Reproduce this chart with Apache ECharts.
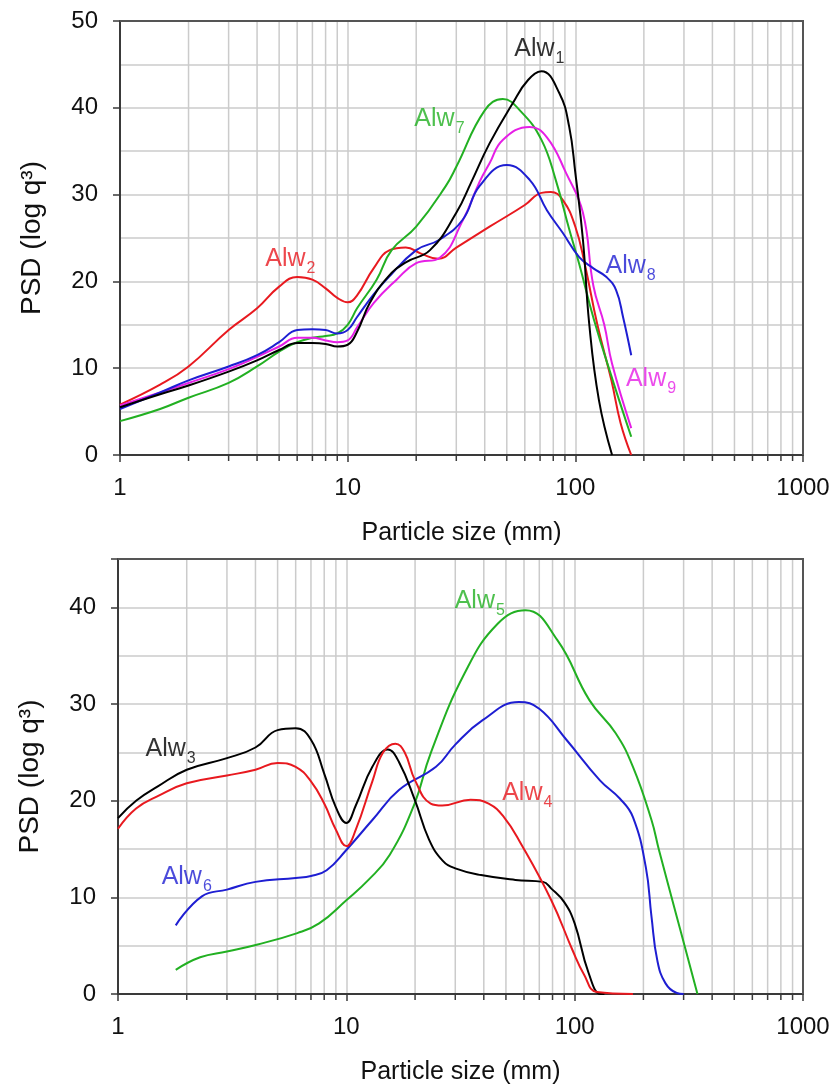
<!DOCTYPE html>
<html>
<head>
<meta charset="utf-8">
<script src="https://cdn.jsdelivr.net/npm/echarts@6/dist/echarts.min.js"></script>
<style>
  html, body { margin: 0; padding: 0; background: #fff; }
  #main { width: 834px; height: 1086px; }
</style>
</head>
<body>
<div id="main"></div>
<script>
// top panel
var alw1 = [[1,5.5],[1.5,7],[2,8.0],[3,9.6],[4,10.9],[5,12.1],[6,12.9],[7,12.9],[8,12.8],[9,12.5],[10,12.7],[11,14.2],[12.5,17.5],[15,20.5],[18,22.2],[23,23.6],[30,27.9],[35,31.5],[42,35.9],[53,40.5],[62,43.2],[71,44.2],[85,41.7],[94,37.8],[100,32.5],[108,24.8],[115,15.2],[127,6.3],[145,0]];
var alw2 = [[1,5.8],[1.5,8.1],[2,10.2],[3,14.4],[4,16.9],[5,19.4],[6,20.5],[7,20.2],[8,19.2],[9,18.1],[10,17.6],[11,18.4],[13,21.5],[15.3,23.6],[18,23.9],[21,23.2],[25,22.6],[30,23.9],[42,26.3],[60,28.8],[71,30.2],[78,30.3],[88,29.4],[100,26.3],[110,22],[125,15],[144,8.6],[158,3.7],[176,0]];
var alw7 = [[1,3.9],[1.5,5.3],[2,6.6],[3,8.3],[4,10.2],[5,11.9],[6,13.0],[7,13.5],[8,13.7],[9,14.0],[10,15.0],[11,16.9],[13.4,20.2],[15.6,23.6],[20,26.3],[27,31.0],[30,33.2],[40,39.7],[48,41.0],[58,39.5],[71,36.3],[82,31.7],[94,26],[104,22],[121,15.5],[146,8.6],[176,2.1]];
var alw8 = [[1,5.3],[1.5,7.2],[2,8.6],[3,10.2],[4,11.5],[5,13.0],[6,14.4],[7,14.5],[8,14.4],[9,14.0],[10,14.4],[11,15.9],[13,18.5],[14.8,20.2],[20,23.6],[25.3,24.8],[32,27.1],[38,31],[50,33.4],[63,31.7],[75,28.2],[88,25.6],[104,22.8],[120,21.5],[137,20.5],[151,19],[162,15.9],[176,11.5]];
var alw9 = [[1,5.7],[1.5,7.2],[2,8.3],[3,9.9],[4,11.3],[5,12.5],[6,13.5],[7,13.5],[8,13.2],[9,13.0],[10,13.2],[11,14.7],[13,17.5],[16.4,20.2],[20,22.1],[25.3,22.7],[32,27],[38,31.5],[42,33.6],[48,36.3],[63,37.8],[75,36.6],[91,32.5],[108,27.9],[120,19.5],[134,15],[145,10.5],[176,3.1]];

// bottom panel
var alw3 = [[1,18.2],[1.2,20],[1.5,21.5],[2,23.2],[3,24.4],[4,25.5],[5,27.3],[6,27.5],[7,26.3],[8,22.8],[9,19.3],[10,17.7],[11,19.5],[13,23.5],[15.2,25.3],[17,24],[20,20],[23,16],[26.4,13.8],[30,13],[38.9,12.3],[55,11.8],[72.6,11.6],[79,10.9],[90,9.5],[100,7.3],[115,2.2],[130,0],[135,0]];
var alw4 = [[1,17.1],[1.2,19.2],[1.5,20.5],[2,21.8],[3,22.6],[4,23.2],[5,23.9],[6,23.5],[7,22],[8,19.7],[9,17],[10,15.3],[11,17],[13,22],[14.5,25],[16.4,25.9],[18,25],[20,22.1],[23.4,19.7],[26.3,19.5],[35,20.1],[42,19.7],[49,18.3],[58,15.6],[79,9.7],[98,4.5],[110,2],[125,0.2],[180,0]];
var alw5 = [[1.79,2.5],[2.29,3.8],[3,4.4],[4.05,5.1],[6.1,6.3],[7.6,7.3],[10,9.7],[12.5,11.8],[15.5,14.4],[19.9,19.7],[23.4,24.9],[33,33.2],[46,38.3],[61,39.7],[84,36.6],[116,30.4],[151,27],[180,23.5],[217,18],[234,14.9],[280,8],[345,0]];
var alw6 = [[1.79,7.1],[2.33,10.1],[3,10.8],[4,11.6],[6,12.0],[7,12.2],[8.2,12.8],[10,14.9],[13,18],[17,21.1],[24.7,23.5],[30,25.8],[39.4,28.3],[57,30.2],[70,29.5],[92,26.3],[129,22.1],[158,20.2],[180,18.3],[205,13.1],[217,8.0],[230,3.5],[250,1.1],[280,0.1],[300,0]];

var minorX = [2,3,4,5,6,7,8,9,20,30,40,50,60,70,80,90,200,300,400,500,600,700,800,900];

// series labels: [x, y, text, subscript, colour]
var topLabels = [[69.5,46.5,'Alw','1','#000'],[25.3,38.4,'Alw','7','#22b022'],[5.6,22.3,'Alw','2','#e8191f'],[175,21.5,'Alw','8','#1e1ed2'],[215,8.5,'Alw','9','#e61ee6']];
var botLabels = [[38.4,40.4,'Alw','5','#22b022'],[1.7,25.1,'Alw','3','#000'],[62,20.5,'Alw','4','#e8191f'],[2.0,11.8,'Alw','6','#1e1ed2']];

var FONT = '"Liberation Sans", Arial, sans-serif';
var gridColor = '#cbcbcb';
var axisColor = '#3a3a3a';

function xAxisOf(idx, gap){
  return {
    type: 'log', logBase: 10, min: 1, max: 1000, gridIndex: idx,
    name: 'Particle size (mm)', nameLocation: 'middle', nameGap: gap,
    nameTextStyle: { fontFamily: FONT, fontSize: 25, color: '#111' },
    axisLine: { lineStyle: { color: axisColor, width: 2 } },
    axisTick: { length: 7, lineStyle: { color: axisColor, width: 1.5 } },
    axisLabel: { fontFamily: FONT, fontSize: 24, color: '#111', margin: 21,
      formatter: function(v){ return String(Math.round(v)); } },
    splitLine: { show: true, lineStyle: { color: gridColor, width: 1.5 } }
  };
}

function yAxesOf(idx, max){
  return [{
    type: 'value', min: 0, max: max, interval: 5, gridIndex: idx,
    axisLine: { show: false }, axisTick: { show: false }, axisLabel: { show: false },
    splitLine: { show: true, lineStyle: { color: gridColor, width: 1.5 } }
  }, {
    type: 'value', min: 0, max: max, interval: 10, gridIndex: idx, position: 'left',
    name: 'PSD (log q³)', nameLocation: 'middle', nameGap: 74,
    nameTextStyle: { fontFamily: FONT, fontSize: 28, color: '#111' },
    axisLine: { show: true, lineStyle: { color: axisColor, width: 2 } },
    axisTick: { show: true, length: 7, lineStyle: { color: axisColor, width: 1.5 } },
    axisLabel: { fontFamily: FONT, fontSize: 24, color: '#111', margin: 22,
      formatter: function(v){ return v % 10 === 0 ? String(v) : ''; } },
    splitLine: { show: false }
  }];
}

// minor log grid lines (2..9 of each decade) and their ticks
function minorGrid(idx, yMax){
  return {
    type: 'custom', xAxisIndex: idx, yAxisIndex: idx * 2, silent: true, z: 1, clip: false,
    data: minorX.map(function(v){ return [v, 0]; }),
    encode: { x: 0, y: 1 },
    renderItem: function(params, api){
      var b = api.coord([api.value(0), 0]);
      var t = api.coord([api.value(0), yMax]);
      return { type: 'group', children: [
        { type: 'line', shape: { x1: b[0], y1: b[1] - 1, x2: t[0], y2: t[1] + 1 }, style: { stroke: gridColor, lineWidth: 1.5 } },
        { type: 'line', shape: { x1: b[0], y1: b[1], x2: b[0], y2: b[1] + 6 }, style: { stroke: axisColor, lineWidth: 1.5 } }
      ]};
    }
  };
}

// dark frame on top and right of the plot area
function frame(idx, yMax){
  return {
    type: 'custom', xAxisIndex: idx, yAxisIndex: idx * 2, silent: true, z: 4, clip: false,
    data: [[1, 0]],
    encode: { x: 0, y: 1 },
    renderItem: function(params, api){
      var bl = api.coord([1, 0]);
      var tr = api.coord([1000, yMax]);
      return { type: 'polyline', shape: { points: [[bl[0], tr[1]], [tr[0], tr[1]], [tr[0], bl[1]]] },
        style: { stroke: '#555', lineWidth: 2, fill: null } };
    }
  };
}

function curve(idx, data, color){
  return {
    type: 'line', xAxisIndex: idx, yAxisIndex: idx * 2, data: data, smooth: 0.45,
    showSymbol: false, symbol: 'none', z: 3,
    lineStyle: { color: color, width: 2 }
  };
}

function labelSeries(idx, labels){
  return {
    type: 'scatter', xAxisIndex: idx, yAxisIndex: idx * 2, symbolSize: 0, z: 5, silent: true,
    data: labels.map(function(l){
      return {
        value: [l[0], l[1]],
        label: {
          show: true, position: 'inside',
          formatter: '{a|' + l[2] + '}{s|' + l[3] + '}',
          rich: {
            a: { fontFamily: FONT, fontSize: 25, color: l[4], verticalAlign: 'bottom', lineHeight: 30, padding: [0, 0, 5, 0] },
            s: { fontFamily: FONT, fontSize: 16, color: l[4], verticalAlign: 'bottom', lineHeight: 20, padding: [0, 0, 0, 1] }
          }
        }
      };
    })
  };
}

var myChart = echarts.init(document.getElementById('main'));
var option = {
  animation: false,
  backgroundColor: '#fff',
  grid: [
    { left: 120, right: 31, top: 21, height: 434 },
    { left: 118, right: 31, top: 559, height: 435 }
  ],
  xAxis: [xAxisOf(0, 66), xAxisOf(1, 66)],
  yAxis: yAxesOf(0, 50).concat(yAxesOf(1, 45)),
  series: [
    minorGrid(0, 50),
    minorGrid(1, 45),
    frame(0, 50),
    frame(1, 45),
    curve(0, alw2, '#e8191f'),
    curve(0, alw7, '#22b022'),
    curve(0, alw9, '#e61ee6'),
    curve(0, alw8, '#1e1ed2'),
    curve(0, alw1, '#000000'),
    curve(1, alw5, '#22b022'),
    curve(1, alw6, '#1e1ed2'),
    curve(1, alw3, '#000000'),
    curve(1, alw4, '#e8191f'),
    labelSeries(0, topLabels),
    labelSeries(1, botLabels)
  ]
};
myChart.setOption(option);
</script>
</body>
</html>
